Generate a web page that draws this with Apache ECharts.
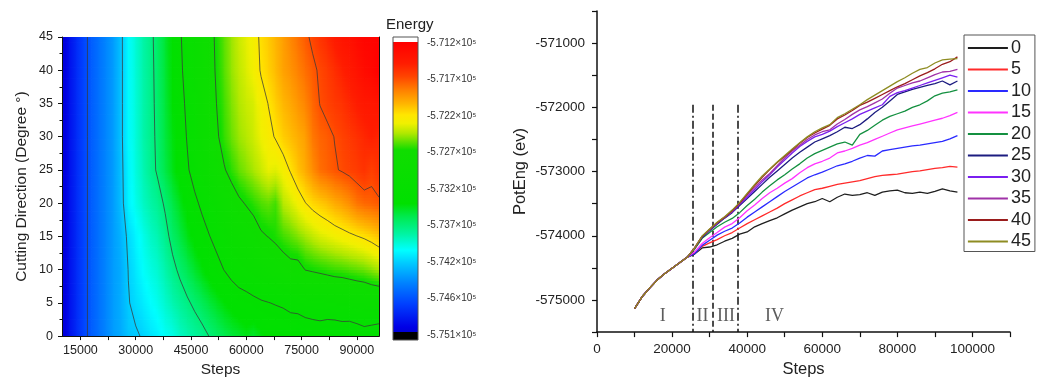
<!DOCTYPE html>
<html><head><meta charset="utf-8">
<script src="https://cdn.jsdelivr.net/npm/echarts@6/dist/echarts.min.js"></script>
<style>html,body{margin:0;padding:0;background:#fff}#c{width:1040px;height:383px}</style>
</head><body><div id="c"></div>
<script>
// ---------- DATA ----------
const angles = [0, 5, 10, 15, 20, 25, 30, 35, 40, 45];
const seriesNames = ['0', '5', '10', '15', '20', '25', '30', '35', '40', '45'];
// steps where all curves coincide
const stepsCommon = [10000, 12000, 14000, 16000, 18000, 20000, 22000, 24000];
const valsCommon = [-575135, -574950, -574815, -574690, -574590, -574505, -574420, -574335];
// steps after divergence
const stepsTail = [26000, 28000, 30000, 32000, 34000, 36000, 38000, 40000, 42000, 44000, 46000, 48000,
  50000, 52000, 54000, 56000, 58000, 60000, 62000, 64000, 66000, 68000, 70000, 72000,
  74000, 76000, 78000, 80000, 82000, 84000, 86000, 88000, 90000, 92000, 94000, 96000];
const tail0 = [-574285, -574190, -574175, -574140, -574085, -574040, -573975, -573940, -573860, -573810, -573765, -573720,
  -573660, -573600, -573550, -573500, -573470, -573420, -573470, -573400, -573350, -573370, -573360, -573330,
  -573370, -573320, -573300, -573290, -573330, -573340, -573320, -573340, -573310, -573270, -573300, -573320];
const tail5 = [-574270, -574165, -574110, -574060, -574000, -573950, -573880, -573810, -573750, -573690, -573630, -573570,
  -573500, -573440, -573380, -573330, -573280, -573260, -573230, -573200, -573180, -573160, -573140, -573110,
  -573080, -573060, -573050, -573040, -573020, -573000, -572990, -572970, -572950, -572940, -572920, -572930];
const tail10 = [-574280, -574150, -574070, -573990, -573930, -573880, -573800, -573710, -573630, -573550, -573470, -573390,
  -573310, -573240, -573170, -573100, -573050, -573010, -572960, -572910, -572880, -572840, -572790, -572750,
  -572760, -572680, -572660, -572640, -572620, -572600, -572590, -572570, -572550, -572530, -572490, -572440];
const tail15 = [-574250, -574120, -574030, -573950, -573865, -573810, -573720, -573610, -573520, -573420, -573330, -573260,
  -573180, -573110, -573020, -572940, -572880, -572840, -572790, -572710, -572680, -572640, -572590, -572550,
  -572500, -572450, -572400, -572350, -572320, -572290, -572260, -572230, -572200, -572170, -572130, -572080];
const tail20 = [-574210, -574040, -573950, -573860, -573790, -573730, -573640, -573530, -573430, -573320, -573220, -573130,
  -573050, -572960, -572880, -572790, -572720, -572670, -572620, -572570, -572540, -572590, -572420, -572360,
  -572280, -572200, -572140, -572100, -572060, -572000, -571960, -571900, -571820, -571780, -571760, -571730];
const tail25 = [-574200, -574030, -573920, -573820, -573725, -573640, -573530, -573420, -573310, -573200, -573090, -572990,
  -572890, -572790, -572700, -572620, -572540, -572490, -572440, -572380, -572310, -572330, -572270, -572180,
  -572080, -572000, -571900, -571800, -571760, -571720, -571690, -571660, -571630, -571590, -571650, -571590];
const tail30 = [-574190, -574010, -573910, -573800, -573715, -573630, -573510, -573400, -573280, -573160, -573050, -572930,
  -572820, -572710, -572610, -572530, -572460, -572420, -572370, -572300, -572240, -572180, -572110, -572060,
  -572010, -571960, -571830, -571770, -571740, -571700, -571660, -571620, -571580, -571540, -571500, -571530];
const tail35 = [-574190, -574010, -573905, -573800, -573712, -573620, -573500, -573370, -573250, -573130, -573030, -572910,
  -572790, -572680, -572590, -572500, -572430, -572380, -572350, -572260, -572190, -572110, -572040, -571990,
  -571930, -571870, -571780, -571700, -571660, -571620, -571590, -571540, -571490, -571450, -571440, -571410];
const tail40 = [-574190, -574010, -573900, -573795, -573710, -573610, -573490, -573350, -573220, -573090, -572970, -572860,
  -572760, -572660, -572560, -572470, -572400, -572340, -572280, -572180, -572120, -572050, -571970, -571920,
  -571860, -571800, -571740, -571680, -571630, -571570, -571510, -571460, -571400, -571330, -571290, -571215];
const tail45 = [-574190, -574005, -573895, -573790, -573705, -573600, -573480, -573340, -573200, -573070, -572960, -572850,
  -572750, -572650, -572550, -572460, -572380, -572320, -572270, -572160, -572100, -572030, -571960, -571880,
  -571810, -571740, -571670, -571600, -571540, -571470, -571410, -571380, -571310, -571260, -571250, -571240];

const phaseX = [25400, 30800, 37500];
const phaseTop = -571960;
const phaseBottom = -575500;
const phaseLabels = ['I', 'II', 'III', 'IV'];
const phaseLabelX = [17500, 28070, 34370, 47250];
const phaseLabelY = -575260;

const cbTicks = [-571215, -571705, -572195, -572685, -573175, -573665, -574155, -574645, -575135];
const cbLabels = ['-5.712', '-5.717', '-5.722', '-5.727', '-5.732', '-5.737', '-5.742', '-5.746', '-5.751'];

const leftXLabels = [15000, 30000, 45000, 60000, 75000, 90000];
const leftXTicks = [15000, 22500, 30000, 37500, 45000, 52500, 60000, 67500, 75000, 82500, 90000];

// ---------- STYLE ----------
const lineColors = ['#1e1e1e', '#ff2a2a', '#2a2aff', '#ff33ff', '#149040', '#1c1c80', '#7a1ff0', '#a032a8', '#9a1c1c', '#8e8c22'];
const cmapStops = [
  [0.000, '#0000cc'], [0.029, '#0000e6'], [0.108, '#0040ff'], [0.177, '#0080ff'], [0.245, '#00c8ff'],
  [0.291, '#00ffff'], [0.348, '#00f4a0'], [0.405, '#00ea50'], [0.450, '#00e000'], [0.633, '#10dd00'],
  [0.656, '#50e000'], [0.690, '#b0e800'], [0.724, '#f0f000'], [0.753, '#ffe600'], [0.792, '#ffb400'],
  [0.838, '#ff7f00'], [0.884, '#ff4400'], [0.929, '#ff1c00'], [1.000, '#ff0000']
];
const FONT = 'Liberation Sans, Arial, sans-serif';

function hexToRgb(h) { return [parseInt(h.slice(1, 3), 16), parseInt(h.slice(3, 5), 16), parseInt(h.slice(5, 7), 16)]; }
const cmapRgb = cmapStops.map(s => [s[0], hexToRgb(s[1])]);
const cbTop = cbTicks[0], cbBottom = cbTicks[cbTicks.length - 1];
function fracOf(v) { return (v - cbBottom) / (cbTop - cbBottom); }
function colorAtFrac(f) {
  f = Math.max(0, Math.min(1, f));
  for (let k = 1; k < cmapRgb.length; k++) {
    if (f <= cmapRgb[k][0]) {
      const f0 = cmapRgb[k - 1][0], c0 = cmapRgb[k - 1][1], f1 = cmapRgb[k][0], c1 = cmapRgb[k][1];
      const t = (f - f0) / (f1 - f0);
      return 'rgb(' + c0.map((c, i) => Math.round(c + (c1[i] - c) * t)).join(',') + ')';
    }
  }
  const c = cmapRgb[cmapRgb.length - 1][1];
  return 'rgb(' + c.join(',') + ')';
}
const BLACK_FRAC = 0.012;
function colorFor(v) { return colorAtFrac(Math.max(BLACK_FRAC, fracOf(v))); }

// ---------- BUILD ----------
const steps = stepsCommon.concat(stepsTail);
const tails = [tail0, tail5, tail10, tail15, tail20, tail25, tail30, tail35, tail40, tail45];
const zRows = tails.map(t => valsCommon.concat(t));
const cells = [];
for (let i = 0; i < angles.length - 1; i++) {
  for (let j = 0; j < steps.length - 1; j++) {
    cells.push([steps[j], angles[i], steps[j + 1], angles[i + 1],
      zRows[i][j], zRows[i][j + 1], zRows[i + 1][j + 1], zRows[i + 1][j]]);
  }
}
const contourLevels = cbTicks.slice(1, -1);

// cell shading: thin horizontal strips, each with a horizontal gradient
function renderHeat(params, api) {
  const x0 = api.value(0), y0 = api.value(1), x1 = api.value(2), y1 = api.value(3);
  const V0 = api.value(4), V1 = api.value(5), V2 = api.value(6), V3 = api.value(7);
  const pA = api.coord([x0, y0]), pB = api.coord([x1, y1]);
  const left = pA[0], right = pB[0], bottom = pA[1], top = pB[1];
  const m = 12;
  const children = [];
  for (let s = 0; s < m; s++) {
    const t0 = s / m, t1 = (s + 1) / m, tm = (t0 + t1) / 2;
    const L = V0 + (V3 - V0) * tm, R = V1 + (V2 - V1) * tm;
    const yb = bottom + (top - bottom) * t0, yt = bottom + (top - bottom) * t1;
    const stops = [];
    for (let k = 0; k <= 2; k++) stops.push({ offset: k / 2, color: colorFor(L + (R - L) * k / 2) });
    children.push({
      type: 'rect',
      shape: { x: left - 0.4, y: yt - 0.4, width: right - left + 0.8, height: yb - yt + 0.8 },
      style: { fill: new echarts.graphic.LinearGradient(0, 0, 1, 0, stops) }
    });
  }
  return { type: 'group', children: children };
}
function renderContour(params, api) {
  const x0 = api.value(0), y0 = api.value(1), x1 = api.value(2), y1 = api.value(3);
  const P = [[x0, y0], [x1, y0], [x1, y1], [x0, y1]];
  const V = [api.value(4), api.value(5), api.value(6), api.value(7)];
  const children = [];
  contourLevels.forEach(L => {
    const pts = [];
    for (let e = 0; e < 4; e++) {
      const a = e, b = (e + 1) % 4;
      if ((V[a] - L) * (V[b] - L) < 0) {
        const t = (L - V[a]) / (V[b] - V[a]);
        pts.push(api.coord([P[a][0] + t * (P[b][0] - P[a][0]), P[a][1] + t * (P[b][1] - P[a][1])]));
      }
    }
    for (let k = 0; k + 1 < pts.length; k += 2) {
      children.push({ type: 'line', shape: { x1: pts[k][0], y1: pts[k][1], x2: pts[k + 1][0], y2: pts[k + 1][1] },
        style: { stroke: '#3a3a3a', lineWidth: 0.9, opacity: 0.85 } });
    }
  });
  return { type: 'group', children: children };
}

const cbAxisMin = -575202, cbAxisMax = -571135;
function renderColorbar(params, api) {
  const p0 = api.coord([api.value(0), api.value(3)]), p1 = api.coord([api.value(2), api.value(1)]);
  const off = v => (cbAxisMax - v) / (cbAxisMax - cbAxisMin);
  const vOf = f => cbBottom + f * (cbTop - cbBottom);
  const stops = [{ offset: 0, color: '#ffffff' }, { offset: off(cbTop), color: '#ffffff' }];
  for (let k = cmapStops.length - 1; k >= 0; k--) {
    if (cmapStops[k][0] > BLACK_FRAC) stops.push({ offset: off(vOf(cmapStops[k][0])), color: cmapStops[k][1] });
  }
  stops.push({ offset: off(vOf(BLACK_FRAC)), color: colorAtFrac(BLACK_FRAC) });
  stops.push({ offset: off(vOf(BLACK_FRAC)), color: '#000000' });
  stops.push({ offset: 1, color: '#000000' });
  return {
    type: 'rect',
    shape: { x: p0[0], y: p0[1], width: p1[0] - p0[0], height: p1[1] - p0[1] },
    style: { fill: new echarts.graphic.LinearGradient(0, 0, 0, 1, stops), stroke: '#555', lineWidth: 1 }
  };
}

const lineSeries = seriesNames.map((nm, i) => ({
  name: nm, type: 'line', xAxisIndex: 1, yAxisIndex: 1, symbol: 'none', z: 5,
  lineStyle: { width: 1.3, color: lineColors[i] }, itemStyle: { color: lineColors[i] },
  data: steps.map((s, j) => [s, zRows[i][j]])
}));

const dashTypes = [[8, 3, 2, 3], [6, 3], [8, 3, 2, 3]];
const phaseSeries = {
  name: 'phases', type: 'scatter', xAxisIndex: 1, yAxisIndex: 1, symbolSize: 0, silent: true,
  data: phaseLabelX.map((x, i) => ({ value: [x, phaseLabelY], name: phaseLabels[i] })),
  label: { show: true, position: 'inside', formatter: '{b}', fontFamily: 'Liberation Serif, Times New Roman, serif', fontSize: 18, color: '#333' },
  markLine: {
    silent: true, symbol: ['none', 'none'], label: { show: false },
    data: phaseX.map((x, i) => [
      { coord: [x, phaseTop], lineStyle: { type: dashTypes[i], color: '#111', width: 1.5 } },
      { coord: [x, phaseBottom] }
    ])
  }
};

const axisTxt = { color: '#222', fontFamily: FONT };
const option = {
  animation: false,
  textStyle: { fontFamily: FONT },
  title: [{ text: 'Energy', left: 381, top: 12, textStyle: { fontSize: 15, fontWeight: 'normal', color: '#222', fontFamily: FONT } }],
  legend: {
    data: seriesNames, orient: 'vertical', left: 964, top: 35, padding: [4, 4, 1, 3],
    itemWidth: 40, itemHeight: 14, itemGap: 3.5, borderColor: '#555', borderWidth: 1,
    textStyle: { fontSize: 18, lineHeight: 18, color: '#222', fontFamily: FONT, padding: [0, 0, 0, -2] },
    itemStyle: { opacity: 0 },
    lineStyle: { width: 1.8 }
  },
  grid: [
    { left: 62, top: 37, width: 317, height: 304, show: false },
    { left: 597, top: 11, width: 413, height: 333 },
    { left: 393, top: 37, width: 25, height: 303 }
  ],
  xAxis: [
    { gridIndex: 0, type: 'value', min: 10000, max: 96000, z: 10,
      axisLine: { lineStyle: { color: '#111', width: 1 } },
      axisTick: { customValues: leftXTicks, length: 4, lineStyle: { color: '#111' } },
      axisLabel: Object.assign({ customValues: leftXLabels, fontSize: 12.5, margin: 8, formatter: v => String(v) }, axisTxt),
      splitLine: { show: false },
      name: 'Steps', nameLocation: 'middle', nameGap: 22, nameTextStyle: Object.assign({ fontSize: 15.5 }, axisTxt) },
    { gridIndex: 1, type: 'value', min: 0, max: 110000, interval: 10000,
      axisLine: { lineStyle: { color: '#111', width: 1.5 } },
      axisTick: { length: 5, lineStyle: { color: '#111', width: 1.2 } },
      axisLabel: Object.assign({ fontSize: 13.5, margin: 10, formatter: v => (v % 20000 === 0 ? String(v) : '') }, axisTxt),
      splitLine: { show: false },
      name: 'Steps', nameLocation: 'middle', nameGap: 24, nameTextStyle: Object.assign({ fontSize: 16.5 }, axisTxt) },
    { gridIndex: 2, type: 'value', min: 0, max: 1, show: false },
    { gridIndex: 0, type: 'value', position: 'top', min: 10000, max: 96000, z: 10,
      axisLine: { lineStyle: { color: '#111', width: 1 } }, axisTick: { show: false }, axisLabel: { show: false }, splitLine: { show: false } }
  ],
  yAxis: [
    { gridIndex: 0, type: 'value', min: 0, max: 45, interval: 5, z: 10,
      axisLine: { lineStyle: { color: '#111', width: 1 } },
      axisTick: { length: 4, lineStyle: { color: '#111' } },
      minorTick: { show: true, splitNumber: 2, length: 2.5, lineStyle: { color: '#111' } },
      axisLabel: Object.assign({ fontSize: 12.5, margin: 9 }, axisTxt),
      splitLine: { show: false },
      name: 'Cutting Direction (Degree °)', nameLocation: 'middle', nameGap: 32, nameTextStyle: Object.assign({ fontSize: 15.5 }, axisTxt) },
    { gridIndex: 1, type: 'value', min: -575500, max: -570500, interval: 500,
      axisLine: { show: true, lineStyle: { color: '#111', width: 1.5 } },
      axisTick: { show: true, length: 5, lineStyle: { color: '#111', width: 1.2 } },
      axisLabel: Object.assign({ fontSize: 13.5, margin: 12, formatter: v => (v % 1000 === 0 ? String(v) : '') }, axisTxt),
      splitLine: { show: false },
      name: 'PotEng (ev)', nameLocation: 'middle', nameGap: 68, nameTextStyle: Object.assign({ fontSize: 16.5 }, axisTxt) },
    { gridIndex: 2, type: 'value', position: 'right', min: cbAxisMin, max: cbAxisMax,
      axisLine: { show: false },
      axisTick: { show: true, customValues: cbTicks, length: 3, lineStyle: { color: '#444' } },
      axisLabel: { customValues: cbTicks, fontSize: 10, margin: 9, color: '#333', fontFamily: FONT,
        formatter: v => {
          let best = 0;
          cbTicks.forEach((t, k) => { if (Math.abs(t - v) < Math.abs(cbTicks[best] - v)) best = k; });
          return cbLabels[best] + '×10⁵';
        } },
      splitLine: { show: false } },
    { gridIndex: 0, type: 'value', position: 'right', min: 0, max: 45, z: 10,
      axisLine: { lineStyle: { color: '#111', width: 1 } }, axisTick: { show: false }, axisLabel: { show: false }, splitLine: { show: false } }
  ],
  series: [
    { name: 'heat', type: 'custom', xAxisIndex: 0, yAxisIndex: 0, data: cells, renderItem: renderHeat,
      encode: { x: [0, 2], y: [1, 3] }, clip: true, silent: true, z: 1 },
    { name: 'contour', type: 'custom', xAxisIndex: 0, yAxisIndex: 0, data: cells, renderItem: renderContour,
      encode: { x: [0, 2], y: [1, 3] }, clip: true, silent: true, z: 3 },
    { name: 'colorbar', type: 'custom', xAxisIndex: 2, yAxisIndex: 2, data: [[0, cbAxisMin, 1, cbAxisMax]],
      renderItem: renderColorbar, encode: { x: [0, 2], y: [1, 3] }, silent: true, z: 1 }
  ].concat(lineSeries, [phaseSeries])
};
const chart = echarts.init(document.getElementById('c'), null, { renderer: 'canvas' });
chart.setOption(option);
</script>
</body></html>
